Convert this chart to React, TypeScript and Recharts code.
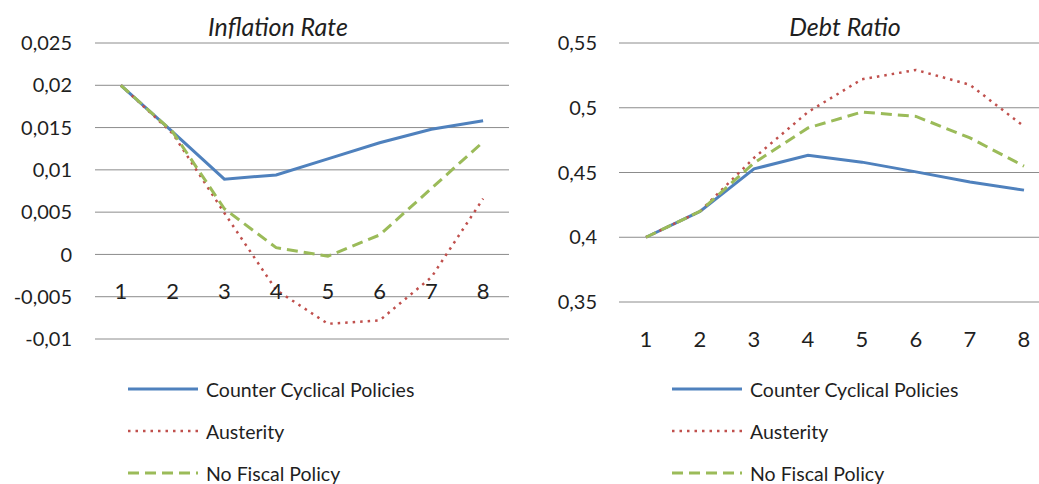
import { LineChart, Line, XAxis, YAxis, CartesianGrid, Legend } from "recharts"

const periods = [1, 2, 3, 4, 5, 6, 7, 8]
const seriesNames = ["Counter Cyclical Policies", "Austerity", "No Fiscal Policy"]

const inflationCounter = [0.02, 0.0145, 0.0089, 0.0094, 0.0113, 0.0132, 0.0148, 0.0158]
const inflationAusterity = [0.02, 0.0143, 0.0049, -0.0042, -0.0082, -0.0078, -0.0027, 0.0066]
const inflationNoFiscal = [0.02, 0.0145, 0.0054, 0.0008, -0.0002, 0.0023, 0.0078, 0.0133]

const debtCounter = [0.4, 0.42, 0.4528, 0.4633, 0.458, 0.4505, 0.4426, 0.4364]
const debtAusterity = [0.4, 0.42, 0.4613, 0.4967, 0.522, 0.5292, 0.5177, 0.4856]
const debtNoFiscal = [0.4, 0.42, 0.4574, 0.4844, 0.4967, 0.4933, 0.4767, 0.4549]

const inflationTicks = [-0.01, -0.005, 0, 0.005, 0.01, 0.015, 0.02, 0.025]
const debtTicks = [0.35, 0.4, 0.45, 0.5, 0.55]

const FONT = "Lato, 'Open Sans', sans-serif"
const TEXT = "#1f1f1f"

// one style per series, same order as seriesNames
const LINE_STYLES = [
  { key: "counter", stroke: "#4f81bd", dash: undefined as string | undefined, width: 3 },
  { key: "austerity", stroke: "#c0504d", dash: "2.5 5", width: 2.5 },
  { key: "noFiscal", stroke: "#9bbb59", dash: "11 6", width: 3 },
]

const toRows = (a: number[], b: number[], c: number[]) =>
  periods.map((p, i) => ({ period: p, counter: a[i], austerity: b[i], noFiscal: c[i] }))

const inflationData = toRows(inflationCounter, inflationAusterity, inflationNoFiscal)
const debtData = toRows(debtCounter, debtAusterity, debtNoFiscal)

const commaFmt = (v: number) => String(v).replace(".", ",")

function XTick({ x, y, payload, shift }: any) {
  return (
    <text x={x} y={y + shift} textAnchor="middle" dominantBaseline="central" fontSize={22} fill={TEXT} fontFamily={FONT}>
      {payload.value}
    </text>
  )
}

function LegendBox() {
  return (
    <div style={{ fontFamily: FONT, fontSize: 19.5, color: TEXT }}>
      {seriesNames.map((name, i) => {
        const s = LINE_STYLES[i]
        return (
          <div key={name} style={{ display: "flex", alignItems: "center", height: 42 }}>
            <svg width={70} height={8} style={{ marginRight: 8 }}>
              <line x1={0} y1={4} x2={70} y2={4} stroke={s.stroke} strokeWidth={s.width} strokeDasharray={s.dash} />
            </svg>
            <span>{name}</span>
          </div>
        )
      })}
    </div>
  )
}

function Panel({
  title, data, ticks, domain, left, width, yWidth, marginRight, marginBottom, tickMargin, xShift, titleX, legendX,
}: any) {
  return (
    <div style={{ position: "absolute", left, top: 0, width, height: 484 }}>
      <div
        style={{
          position: "absolute", top: 10, left: titleX - 120, width: 240, textAlign: "center",
          fontFamily: FONT, fontStyle: "italic", fontSize: 25, color: TEXT, lineHeight: "32px",
        }}
      >
        {title}
      </div>
      <LineChart width={width} height={484} data={data} margin={{ top: 43, right: marginRight, left: 0, bottom: marginBottom }}>
        <CartesianGrid vertical={false} stroke="#8c8c8c" strokeWidth={1} />
        <XAxis
          dataKey="period"
          axisLine={false}
          tickLine={false}
          height={30}
          scale="band"
          tick={(p: any) => <XTick {...p} shift={xShift} />}
          interval={0}
        />
        <YAxis
          type="number"
          domain={domain}
          ticks={ticks}
          width={yWidth}
          axisLine={false}
          tickLine={false}
          tickMargin={tickMargin}
          tickFormatter={commaFmt}
          tick={{ fontSize: 20, fill: TEXT, fontFamily: FONT }}
          interval={0}
        />
        {LINE_STYLES.map((s, i) => (
          <Line
            key={s.key}
            dataKey={s.key}
            name={seriesNames[i]}
            type="linear"
            stroke={s.stroke}
            strokeWidth={s.width}
            strokeDasharray={s.dash}
            dot={false}
            activeDot={false}
            isAnimationActive={false}
          />
        ))}
        <Legend
          layout="vertical"
          align="center"
          verticalAlign="middle"
          wrapperStyle={{ left: legendX, top: 368, width: 320 }}
          content={() => <LegendBox />}
        />
      </LineChart>
    </div>
  )
}

export default function App() {
  return (
    <div style={{ position: "absolute", left: 0, top: 0, width: 1039, height: 484, overflow: "hidden", background: "#fff" }}>
      <Panel
        title="Inflation Rate"
        data={inflationData}
        ticks={inflationTicks}
        domain={[-0.01, 0.025]}
        left={0}
        width={530}
        yWidth={95}
        marginRight={21}
        marginBottom={115}
        tickMargin={17}
        xShift={-57}
        titleX={278}
        legendX={128}
      />
      <Panel
        title="Debt Ratio"
        data={debtData}
        ticks={debtTicks}
        domain={[0.35, 0.55]}
        left={520}
        width={540}
        yWidth={99}
        marginRight={9}
        marginBottom={152}
        tickMargin={16}
        xShift={28}
        titleX={325}
        legendX={152}
      />
    </div>
  )
}
